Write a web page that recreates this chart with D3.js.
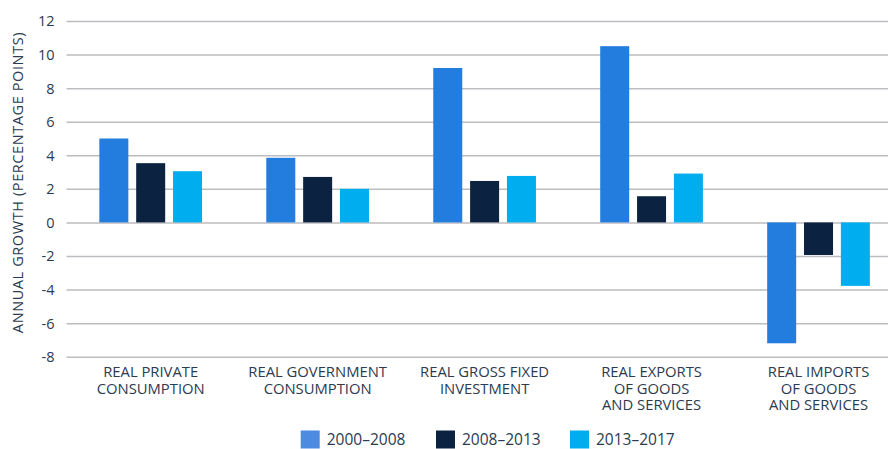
<!DOCTYPE html>
<html>
<head>
<meta charset="utf-8">
<script src="https://cdn.jsdelivr.net/npm/d3@7"></script>
<style>
  html, body { margin: 0; padding: 0; background: #ffffff; }
  svg { display: block; }
  text { font-family: "Open Sans", "Noto Sans", sans-serif; fill: #2b3b50; }
</style>
</head>
<body>
<svg id="chart" width="888" height="449"></svg>
<script>
// Annual growth by component, three periods
const categories = [
  ["REAL PRIVATE", "CONSUMPTION"],
  ["REAL GOVERNMENT", "CONSUMPTION"],
  ["REAL GROSS FIXED", "INVESTMENT"],
  ["REAL EXPORTS", "OF GOODS", "AND SERVICES"],
  ["REAL IMPORTS", "OF GOODS", "AND SERVICES"]
];
const series = ["2000–2008", "2008–2013", "2013–2017"];
const values2000_2008 = [5.0, 3.85, 9.2, 10.5, -7.2];
const values2008_2013 = [3.53, 2.71, 2.47, 1.56, -1.94];
const values2013_2017 = [3.05, 2.0, 2.77, 2.91, -3.78];
const yTicks = [-8, -6, -4, -2, 0, 2, 4, 6, 8, 10, 12];

const seriesValues = [values2000_2008, values2008_2013, values2013_2017];
const barColors = ["#237ddf", "#0b2341", "#00aeef"];
const legendColors = ["#4d8ae1", "#0b2341", "#00aeef"];

const svg = d3.select("#chart");
const W = 888;
const plotLeft = 66.5;

const catKeys = categories.map(c => c.join(" "));

const y = d3.scaleLinear().domain([-8, 12]).range([356.7, 21]);
const x0 = d3.scaleBand().domain(catKeys).range([67.2, 902]).padding(0);
const x1 = d3.scaleBand().domain(series).range([0, x0.bandwidth()])
  .paddingInner(0.213).paddingOuter(0.872);

// Gridlines and tick labels (plain hyphen for negatives)
const yAxis = d3.axisLeft(y)
  .tickValues(yTicks)
  .tickSizeInner(-(W - plotLeft))
  .tickSizeOuter(0)
  .tickPadding(12)
  .tickFormat(d => String(d));

const gAxis = svg.append("g")
  .attr("transform", `translate(${plotLeft},0)`)
  .call(yAxis);
gAxis.select(".domain").remove();
gAxis.selectAll(".tick line")
  .attr("stroke", "#bdbdc1")
  .attr("stroke-width", 1.5);
gAxis.selectAll(".tick text")
  .attr("font-size", 14.5)
  .attr("fill", "#2b3b50")
  .attr("dy", "0.34em");

// Bars
const rows = catKeys.map((k, i) => ({
  key: k,
  bars: series.map((s, j) => ({ s, j, v: seriesValues[j][i] }))
}));

const groups = svg.append("g").selectAll("g")
  .data(rows)
  .join("g")
  .attr("transform", d => `translate(${x0(d.key)},0)`);

groups.selectAll("rect")
  .data(d => d.bars)
  .join("rect")
  .attr("x", d => x1(d.s))
  .attr("width", x1.bandwidth())
  .attr("y", d => y(Math.max(0, d.v)))
  .attr("height", d => Math.abs(y(d.v) - y(0)))
  .attr("fill", d => barColors[d.j]);

// Category labels, one text per line
const labelLines = categories.flatMap((lines, i) =>
  lines.map((line, k) => ({ line, i, k })));
svg.append("g").selectAll("text")
  .data(labelLines)
  .join("text")
  .attr("text-anchor", "middle")
  .attr("font-size", 14.8)
  .attr("x", d => x0(catKeys[d.i]) + x0.bandwidth() / 2)
  .attr("y", d => 376.8 + d.k * 16.7)
  .text(d => d.line);

// Y axis title
svg.append("text")
  .attr("transform", "translate(23,182.5) rotate(-90)")
  .attr("text-anchor", "middle")
  .attr("font-size", 14.5)
  .attr("letter-spacing", 0.6)
  .text("ANNUAL GROWTH (PERCENTAGE POINTS)");

// Legend
const legendX = [300.7, 436, 570];
const legend = svg.append("g").selectAll("g")
  .data(series)
  .join("g")
  .attr("transform", (d, i) => `translate(${legendX[i]},430.5)`);
legend.append("rect")
  .attr("width", 19)
  .attr("height", 18)
  .attr("fill", (d, i) => legendColors[i]);
legend.append("text")
  .attr("x", 26)
  .attr("y", 14.8)
  .attr("font-size", 15.5)
  .text(d => d);
</script>
</body>
</html>
